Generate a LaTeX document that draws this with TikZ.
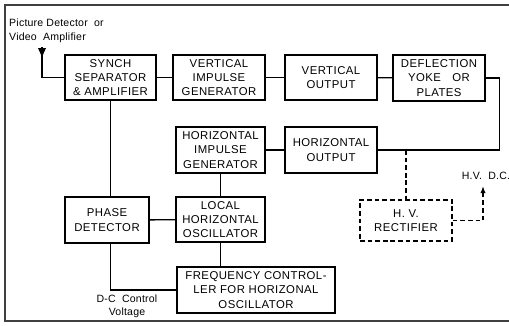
\documentclass[tikz,border=0pt]{standalone}
\usepackage{fontspec}
\setmainfont[LetterSpace=4]{Liberation Sans}
\newfontfamily\labfont[LetterSpace=2]{Liberation Sans}
\usetikzlibrary{arrows.meta}
\begin{document}
\begin{tikzpicture}[x=0.03cm,y=-0.03cm,
  blk/.style={draw,line width=1.3pt,align=center,inner sep=0pt,
    font=\fontsize{9.7}{12.3}\selectfont},
  dblk/.style={blk,dashed,dash pattern=on 4pt off 2.5pt},
  wire/.style={line width=1.2pt},
  dwire/.style={wire,dash pattern=on 4pt off 2.5pt},
  frame/.style={line width=1pt,draw=black!75},
  lab/.style={font=\labfont\fontsize{9}{11.5}\selectfont,align=left,inner sep=0pt}]
\useasboundingbox (0,0) rectangle (509,325);
% frame
\draw[frame] (509,5) -- (5,5) -- (5,321) -- (509,321);
% blocks
\node[blk,minimum width=91*0.03cm,minimum height=45*0.03cm] (synch) at (110.5,77.5) {SYNCH\\SEPARATOR\\\& AMPLIFIER};
\node[blk,minimum width=92*0.03cm,minimum height=45*0.03cm] (vimp) at (219,77.5) {VERTICAL\\IMPULSE\\GENERATOR};
\node[blk,minimum width=92*0.03cm,minimum height=45*0.03cm] (vout) at (331,77.5) {VERTICAL\\OUTPUT};
\node[blk,minimum width=92*0.03cm,minimum height=46*0.03cm] (defl) at (439,78) {DEFLECTION\\YOKE\quad OR\\PLATES};
\node[blk,minimum width=89*0.03cm,minimum height=46*0.03cm] (himp) at (220.5,150) {HORIZONTAL\\IMPULSE\\GENERATOR};
\node[blk,minimum width=92*0.03cm,minimum height=46*0.03cm] (hout) at (331,150) {HORIZONTAL\\OUTPUT};
\node[blk,minimum width=84*0.03cm,minimum height=46*0.03cm] (phase) at (107,220) {PHASE\\DETECTOR};
\node[blk,minimum width=89*0.03cm,minimum height=45*0.03cm] (local) at (220.5,219.5) {LOCAL\\HORIZONTAL\\OSCILLATOR};
\node[blk,minimum width=158*0.03cm,minimum height=46*0.03cm] (freq) at (256,290) {FREQUENCY CONTROL-\\LER FOR HORIZONAL\\OSCILLATOR};
\node[dblk,minimum width=92*0.03cm,minimum height=41*0.03cm] (hv) at (406,220.5) {H. V.\\RECTIFIER};
% labels
\node[lab,anchor=north west] (pdet) at (9,19) {Picture Detector\ \ or\\Video\ \ Amplifier};
\node[lab,align=center] (dcv) at (127,306) {D-C\ \ Control\\Voltage};
\node[lab] (hvdc) at (486,176) {H.V.\ \ D.C.};
% antenna
\coordinate (ant) at (42,57);
\fill (38,48) -- (46,48) -- (ant) -- cycle;
\draw[wire] (42,47) -- (ant);
\draw[wire] (ant) |- (synch.west);
% connectors
\draw[wire] (synch) -- (vimp);
\draw[wire] (vimp) -- (vout);
\draw[wire] (vout) -- (defl);
\draw[wire] (defl.east) -- ++(14,0) coordinate (dr) |- (hout.east);
\draw[wire] (himp) -- (hout);
\draw[wire] (himp) -- (local);
\draw[wire] (local) -- (freq.north -| local);
\draw[wire] (phase) -- (local);
\draw[wire] (synch.south) -- (synch.south |- phase.north);
\draw[wire] (synch.south |- phase.south) |- (freq.west);
\coordinate (j) at (hv.north |- hout.east);
\draw[dwire] (j) -- (hv.north);
\coordinate (hvtip) at (483,186);
\draw[dwire,-{Latex[length=6pt,width=4.5pt]}] (hv.east) -| (hvtip);
\end{tikzpicture}
\end{document}
